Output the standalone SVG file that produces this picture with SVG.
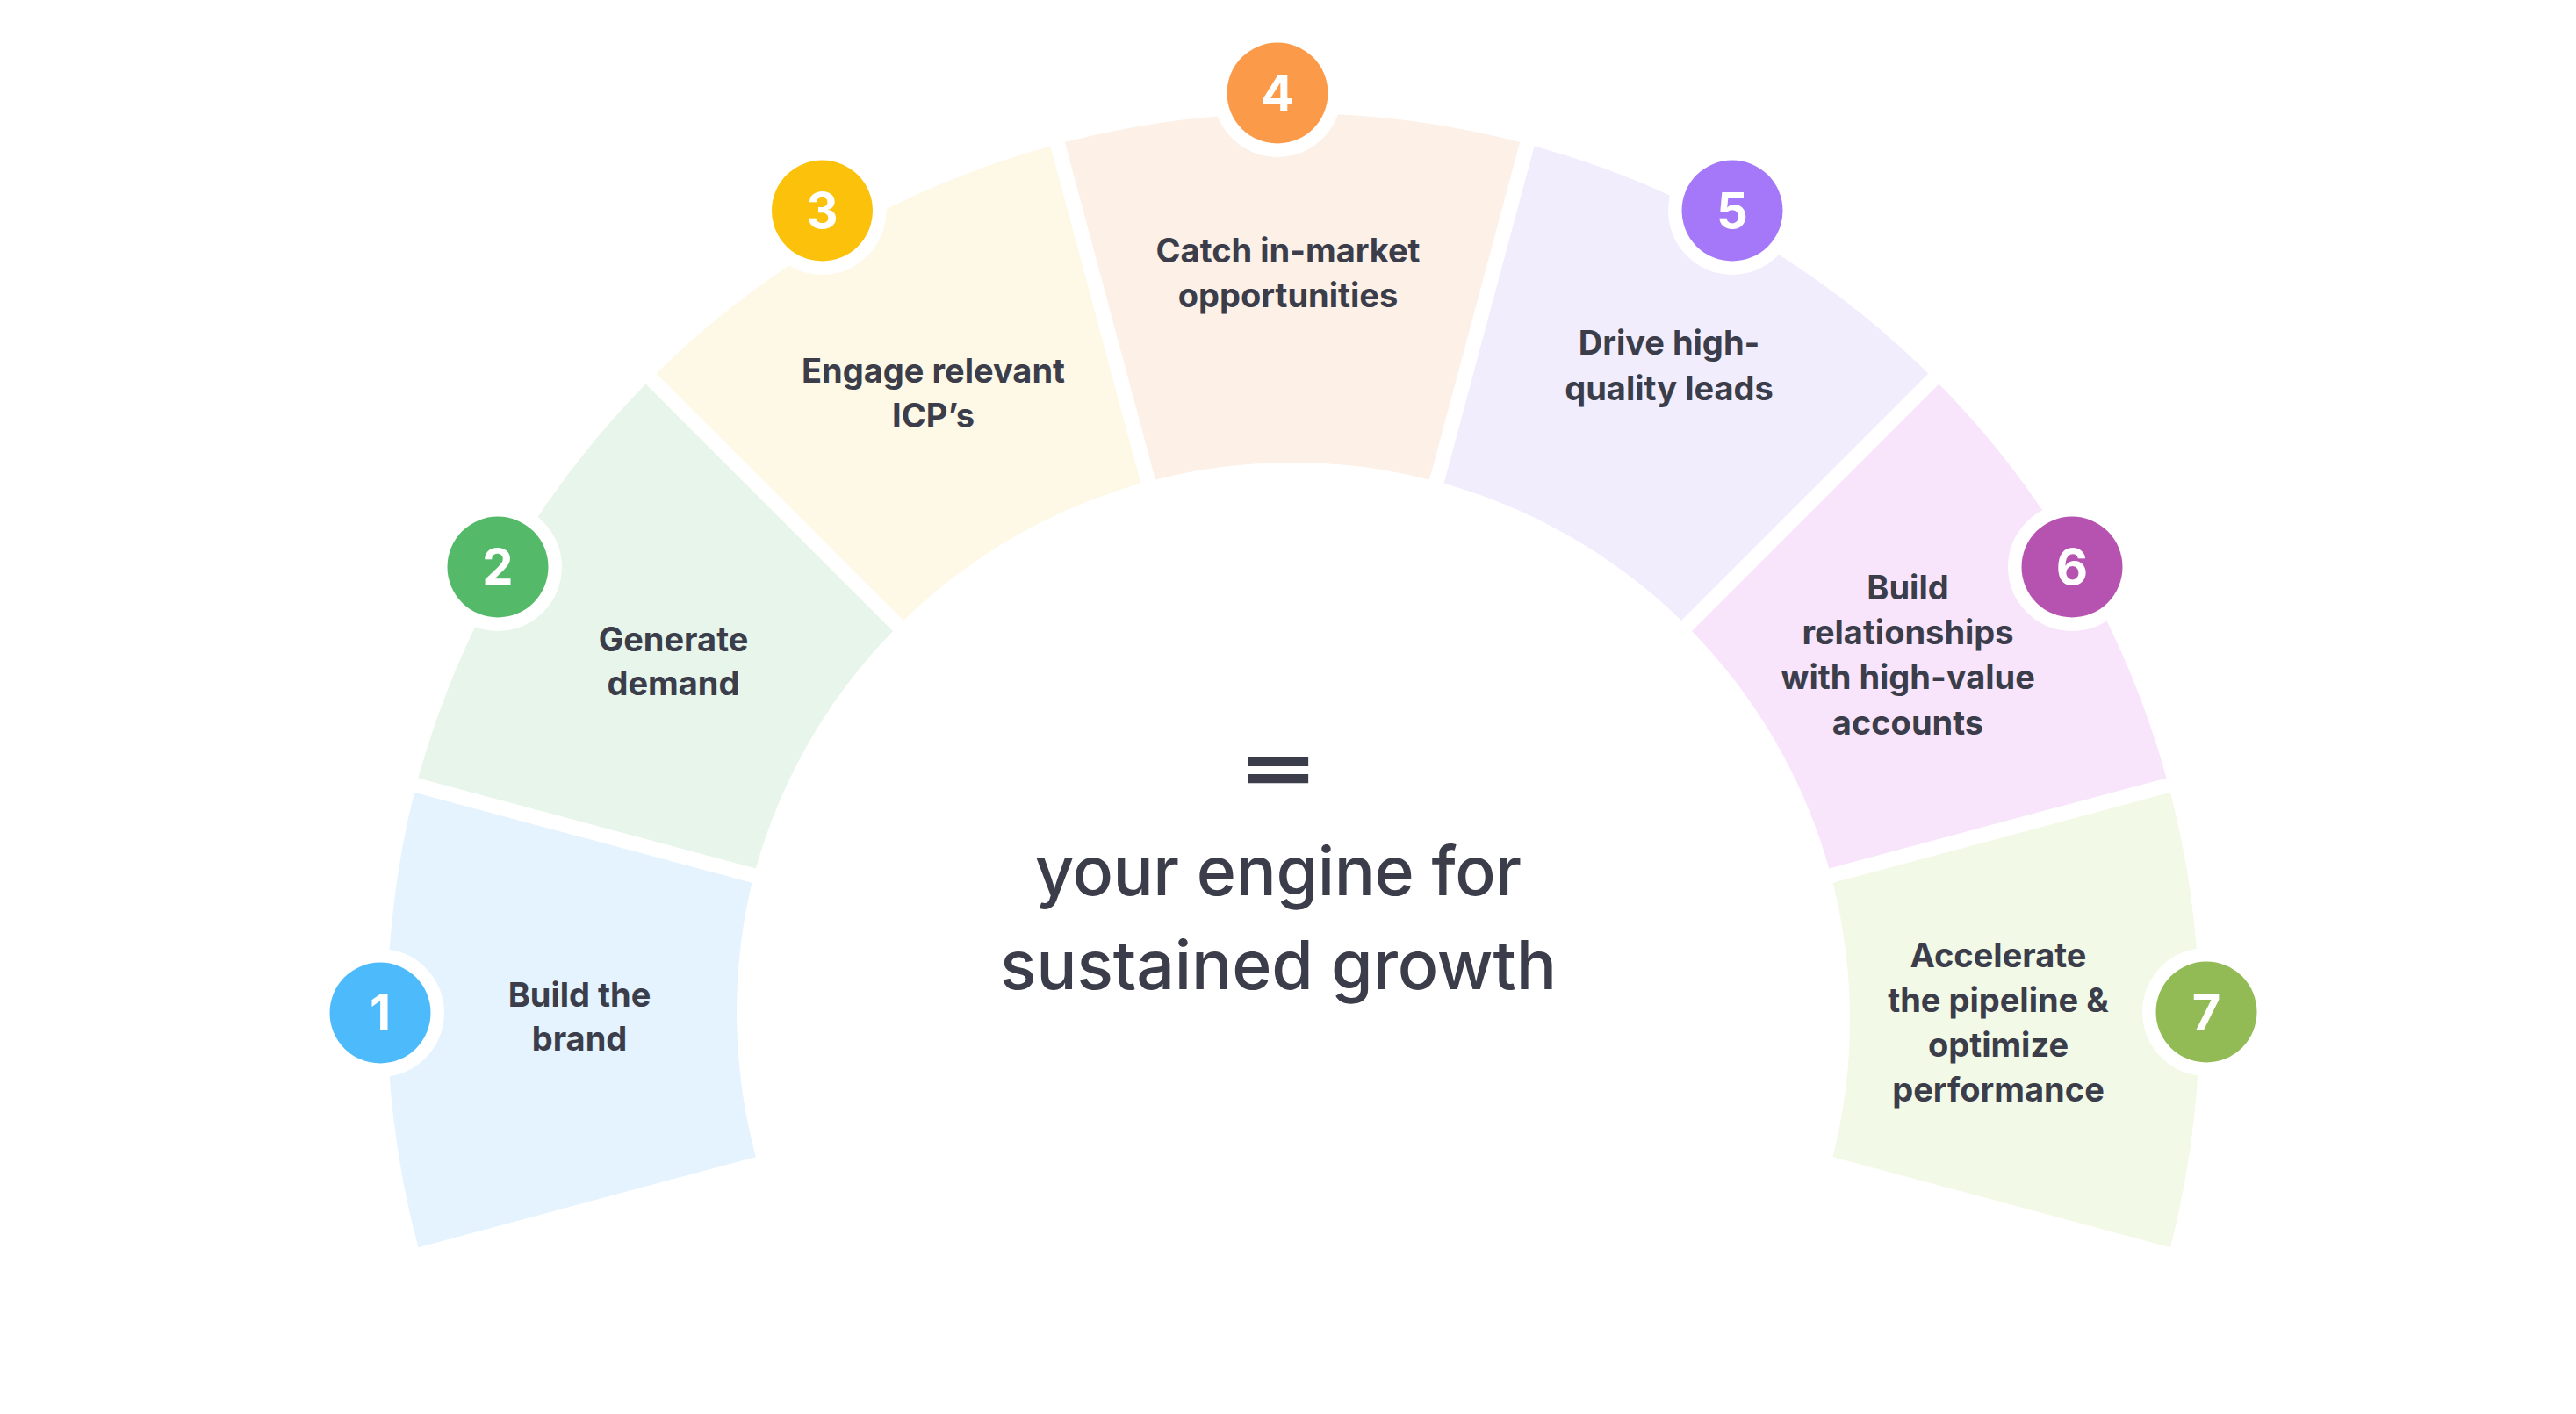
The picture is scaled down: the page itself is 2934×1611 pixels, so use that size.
<svg xmlns="http://www.w3.org/2000/svg" width="2934" height="1611" viewBox="0 0 2934 1611">
<style>
.lbl{font-family:Inter,"Liberation Sans",sans-serif;font-weight:700;font-size:38px;fill:#3B3E4A;text-anchor:middle}
.num{font-family:Inter,"Liberation Sans",sans-serif;font-weight:700;font-size:56px;fill:#FFFFFF;text-anchor:middle}
.ring{fill:#FFFFFF}
.big{font-family:Inter,"Liberation Sans",sans-serif;font-weight:500;font-size:77px;fill:#3B3E4A;text-anchor:middle}
</style>
<rect width="2934" height="1611" fill="#FFFFFF"/>
<g id="connectors"/>
<g id="step1">
<path d="M476.4 1421.15 A1033 1033 0 0 1 472 902.85 L856.44 1005.86 A635 635 0 0 0 860.84 1318.14 Z" fill="#E4F3FD"/>
<circle class="ring" cx="433" cy="1154" r="73"/>
<circle cx="433" cy="1154" r="57.5" fill="#4DBBFB"/>
<text class="num" x="433" y="1174">1</text>
<text class="lbl" x="660" y="1147">Build the</text>
<text class="lbl" x="660" y="1197">brand</text>
</g>
<g id="step2">
<path d="M476.4 886.43 A1033 1033 0 0 1 735.55 437.57 L1016.98 719 A635 635 0 0 0 860.84 989.44 Z" fill="#E7F5EA"/>
<circle class="ring" cx="567" cy="646" r="73"/>
<circle cx="567" cy="646" r="57.5" fill="#55B96A"/>
<text class="num" x="567" y="666">2</text>
<text class="lbl" x="767" y="742">Generate</text>
<text class="lbl" x="767" y="792">demand</text>
</g>
<g id="step3">
<path d="M747.57 425.55 A1033 1033 0 0 1 1196.43 166.4 L1299.44 550.84 A635 635 0 0 0 1029 706.98 Z" fill="#FEF8E6"/>
<circle class="ring" cx="936.5" cy="240" r="73"/>
<circle cx="936.5" cy="240" r="57.5" fill="#FBC10B"/>
<text class="num" x="936.5" y="260">3</text>
<text class="lbl" x="1063" y="436">Engage relevant</text>
<text class="lbl" x="1063" y="487">ICP’s</text>
</g>
<g id="step4">
<path d="M1212.85 162 A1033 1033 0 0 1 1731.15 162 L1628.14 546.44 A635 635 0 0 0 1315.86 546.44 Z" fill="#FDF0E7"/>
<circle class="ring" cx="1455" cy="106" r="73"/>
<circle cx="1455" cy="106" r="57.5" fill="#FB9A48"/>
<text class="num" x="1455" y="126">4</text>
<text class="lbl" x="1467" y="299">Catch in-market</text>
<text class="lbl" x="1467" y="350">opportunities</text>
</g>
<g id="step5">
<path d="M1747.57 166.4 A1033 1033 0 0 1 2196.43 425.55 L1915 706.98 A635 635 0 0 0 1644.56 550.84 Z" fill="#F1EDFD"/>
<circle class="ring" cx="1973" cy="240" r="73"/>
<circle cx="1973" cy="240" r="57.5" fill="#A478F8"/>
<text class="num" x="1973" y="260">5</text>
<text class="lbl" x="1901" y="404">Drive high-</text>
<text class="lbl" x="1901" y="456">quality leads</text>
</g>
<g id="step6">
<path d="M2208.45 437.57 A1033 1033 0 0 1 2467.6 886.43 L2083.16 989.44 A635 635 0 0 0 1927.02 719 Z" fill="#F8E5FB"/>
<circle class="ring" cx="2360" cy="646" r="73"/>
<circle cx="2360" cy="646" r="57.5" fill="#B653B1"/>
<text class="num" x="2360" y="666">6</text>
<text class="lbl" x="2173" y="683">Build</text>
<text class="lbl" x="2173" y="734">relationships</text>
<text class="lbl" x="2173" y="785">with high-value</text>
<text class="lbl" x="2173" y="837">accounts</text>
</g>
<g id="step7">
<path d="M2472 902.85 A1033 1033 0 0 1 2472 1421.15 L2087.56 1318.14 A635 635 0 0 0 2087.56 1005.86 Z" fill="#F2F9E6"/>
<circle class="ring" cx="2513" cy="1153" r="73"/>
<circle cx="2513" cy="1153" r="57.5" fill="#92BA55"/>
<text class="num" x="2513" y="1173">7</text>
<text class="lbl" x="2276" y="1102">Accelerate</text>
<text class="lbl" x="2276" y="1153">the pipeline &amp;</text>
<text class="lbl" x="2276" y="1204">optimize</text>
<text class="lbl" x="2276" y="1255">performance</text>
</g>
<g id="center">
<text class="big" transform="translate(1456 877) scale(1 0.6)" x="0" y="41" style="font-size:140px;font-weight:700">=</text>
<text class="big" x="1456" y="1020" textLength="554" lengthAdjust="spacing">your engine for</text>
<text class="big" x="1456" y="1127" textLength="634" lengthAdjust="spacing">sustained growth</text>
</g>
</svg>
